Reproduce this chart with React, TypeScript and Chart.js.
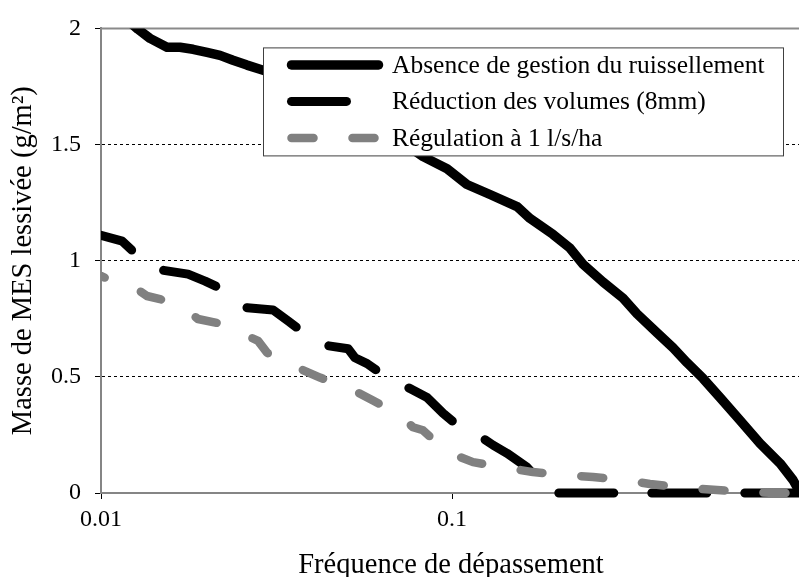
import React, { useEffect, useRef } from "react";
import { Chart, registerables } from "chart.js";

Chart.register(...registerables);

const FONT = '"Liberation Serif", "Times New Roman", Times, serif';

// Tick labels
const xTickValues = [0.01, 0.1];
const yTickValues = [0, 0.5, 1, 1.5, 2];

// Titles & legend labels
const xTitle = "Fréquence de dépassement";
const yTitle = "Masse de MES lessivée (g/m²)";
const seriesLabels = [
  "Absence de gestion du ruissellement",
  "Réduction des volumes (8mm)",
  "Régulation à 1 l/s/ha",
];

// Series 1 : Absence de gestion du ruissellement
const freqAbsence = [
  0.01, 0.0118, 0.01275, 0.01379, 0.01542, 0.01679, 0.01829, 0.02005, 0.02183,
  0.02377, 0.02606, 0.02838, 0.0369, 0.048, 0.0624, 0.0827, 0.0968, 0.1103,
  0.1283, 0.1532, 0.1668, 0.194, 0.2169, 0.2362, 0.2693, 0.307, 0.3367, 0.3837,
  0.4263, 0.4673, 0.519, 0.5801, 0.6616, 0.7541, 0.86, 0.9365, 0.974,
];
const massAbsence = [
  2.2, 2.04, 1.996, 1.957, 1.919, 1.919, 1.91, 1.897, 1.884, 1.863, 1.842, 1.824,
  1.769, 1.692, 1.576, 1.448, 1.396, 1.328, 1.285, 1.233, 1.182, 1.113, 1.054,
  0.985, 0.908, 0.839, 0.771, 0.69, 0.625, 0.561, 0.493, 0.411, 0.313, 0.214,
  0.128, 0.056, 0.01,
];

// Series 2 : Réduction des volumes (8mm)
const freqReduction = [
  0.01, 0.0115, 0.0125, 0.01379, 0.015, 0.0177, 0.0198, 0.0221, 0.0241, 0.0261,
  0.0309, 0.0341, 0.0369, 0.0407, 0.0443, 0.0506, 0.0529, 0.0573, 0.0624,
  0.0688, 0.0759, 0.0849, 0.0943, 0.1054, 0.1202, 0.1309, 0.1435, 0.1636,
  0.1877, 0.1927, 0.974,
];
const massReduction = [
  1.109, 1.084, 1.032, 0.989, 0.959, 0.942, 0.912, 0.878, 0.835, 0.797, 0.788,
  0.741, 0.702, 0.655, 0.634, 0.621, 0.582, 0.557, 0.518, 0.475, 0.45, 0.411,
  0.343, 0.283, 0.244, 0.206, 0.171, 0.111, 0.013, 0, 0,
];

// Series 3 : Régulation à 1 l/s/ha
const freqRegulation = [
  0.01, 0.01133, 0.01266, 0.01352, 0.01473, 0.01625, 0.01793, 0.01889, 0.02141,
  0.02362, 0.02606, 0.02802, 0.02972, 0.03236, 0.03572, 0.04207, 0.04642,
  0.05122, 0.05956, 0.06572, 0.07204, 0.07743, 0.08268, 0.08946, 0.0968, 0.1148,
  0.1283, 0.1398, 0.1701, 0.2072, 0.2522, 0.305, 0.3665, 0.4673, 0.5689,
  0.6927, 0.8322, 0.974,
];
const massRegulation = [
  0.934, 0.899, 0.878, 0.848, 0.835, 0.805, 0.775, 0.749, 0.732, 0.707, 0.677,
  0.655, 0.604, 0.57, 0.544, 0.497, 0.471, 0.45, 0.398, 0.364, 0.325, 0.283,
  0.27, 0.223, 0.176, 0.133, 0.12, 0.111, 0.09, 0.077, 0.069, 0.056, 0.039,
  0.021, 0.013, 0.004, 0, 0,
];

const X_MIN = 0.01;
const X_MAX = 0.974;
const Y_MIN = 0;
const Y_MAX = 2;

const zip = (xs: number[], ys: number[]) => xs.map((x, i) => ({ x, y: ys[i] }));

const framePlugin = {
  id: "frameTop",
  beforeDatasetsDraw(chart: any) {
    const { ctx, chartArea } = chart;
    ctx.save();
    ctx.strokeStyle = "#8a8a8a";
    ctx.lineWidth = 2;
    ctx.beginPath();
    ctx.moveTo(chartArea.left, chartArea.top);
    ctx.lineTo(chartArea.right, chartArea.top);
    ctx.stroke();
    ctx.restore();
  },
};

const legendPlugin = {
  id: "boxLegend",
  afterDatasetsDraw(chart: any) {
    const { ctx, chartArea } = chart;
    const left = chartArea.left + 162.5;
    const top = chartArea.top + 19.5;
    const right = chartArea.left + 682.5;
    const bottom = chartArea.top + 127.5;
    ctx.save();
    ctx.fillStyle = "#ffffff";
    ctx.fillRect(left, top, right - left, bottom - top);
    ctx.strokeStyle = "#404040";
    ctx.lineWidth = 1;
    ctx.setLineDash([]);
    ctx.strokeRect(left, top, right - left, bottom - top);
    const rowY = [top + 17, top + 53.5, top + 90];
    chart.data.datasets.forEach((ds: any, i: number) => {
      const y = rowY[i];
      ctx.save();
      ctx.strokeStyle = ds.borderColor;
      ctx.lineWidth = ds.borderWidth;
      ctx.lineCap = "round";
      ctx.setLineDash(ds.borderDash || []);
      ctx.lineDashOffset = 0;
      ctx.beginPath();
      ctx.moveTo(left + 28, y);
      ctx.lineTo(left + 115, y);
      ctx.stroke();
      ctx.restore();
      ctx.fillStyle = "#000";
      ctx.font = `25.5px ${FONT}`;
      ctx.textAlign = "left";
      ctx.textBaseline = "alphabetic";
      ctx.fillText(ds.label, left + 128.5, y + 8);
    });
    ctx.restore();
  },
};

const titlesPlugin = {
  id: "axisTitles",
  afterDraw(chart: any) {
    const { ctx, chartArea } = chart;
    ctx.save();
    ctx.fillStyle = "#000";
    ctx.font = `28.5px ${FONT}`;
    ctx.textAlign = "center";
    ctx.textBaseline = "alphabetic";
    ctx.fillText(xTitle, (chartArea.left + chartArea.right) / 2 + 1, chartArea.bottom + 80);
    ctx.translate(23.5, (chartArea.top + chartArea.bottom) / 2);
    ctx.rotate(-Math.PI / 2);
    ctx.textBaseline = "middle";
    ctx.fillText(yTitle, 0, 0);
    ctx.restore();
  },
};

export default function App() {
  const canvasRef = useRef<HTMLCanvasElement | null>(null);

  useEffect(() => {
    document.body.style.margin = "0";
    const canvas = canvasRef.current;
    if (!canvas) return;
    const common = {
      pointRadius: 0,
      pointHoverRadius: 0,
      tension: 0,
      fill: false,
      borderCapStyle: "round",
      borderJoinStyle: "round",
      clip: { left: 0, top: 0, right: 8, bottom: 8 },
    };
    const chart = new Chart(canvas, {
      type: "line",
      data: {
        datasets: [
          {
            ...common,
            label: seriesLabels[0],
            data: zip(freqAbsence, massAbsence),
            borderColor: "#000000",
            borderWidth: 9.5,
            order: 3,
          },
          {
            ...common,
            label: seriesLabels[1],
            data: zip(freqReduction, massReduction),
            borderColor: "#000000",
            borderWidth: 9,
            borderDash: [55, 38],
            borderDashOffset: 20,
            order: 2,
          },
          {
            ...common,
            label: seriesLabels[2],
            data: zip(freqRegulation, massRegulation),
            borderColor: "#808080",
            borderWidth: 8.5,
            borderDash: [22, 39],
            borderDashOffset: 18,
            order: 1,
          },
        ] as any,
      },
      options: {
        animation: false,
        responsive: false,
        maintainAspectRatio: false,
        devicePixelRatio: 1,
        layout: { padding: { top: 26, left: 0, right: 0, bottom: 0 } },
        plugins: {
          legend: { display: false },
          tooltip: { enabled: false },
          title: { display: false },
        },
        scales: {
          x: {
            type: "logarithmic",
            min: X_MIN,
            max: X_MAX,
            afterBuildTicks: (s: any) => {
              s.ticks = xTickValues.map((v) => ({ value: v }));
            },
            afterFit: (s: any) => {
              s.height = 84;
            },
            ticks: {
              autoSkip: false,
              maxRotation: 0,
              color: "#000",
              font: { family: FONT, size: 24 },
              padding: 6,
              callback: (v: any) => String(v),
            },
            grid: {
              drawOnChartArea: false,
              drawTicks: true,
              tickLength: 6,
              tickColor: "#000",
              tickWidth: 1,
            },
            border: { color: "#858585", width: 2 },
          },
          y: {
            type: "linear",
            min: Y_MIN,
            max: Y_MAX,
            afterBuildTicks: (s: any) => {
              s.ticks = yTickValues.map((v) => ({ value: v }));
            },
            afterFit: (s: any) => {
              s.width = 101;
            },
            ticks: {
              color: "#000",
              font: { family: FONT, size: 24 },
              padding: 14,
              callback: (v: any) => String(v),
            },
            grid: {
              color: (c: any) =>
                c.tick && (c.tick.value === Y_MIN || c.tick.value === Y_MAX)
                  ? "rgba(0,0,0,0)"
                  : "#000",
              lineWidth: 1,
              tickLength: 6,
              tickColor: "#000",
              tickWidth: 1,
              tickBorderDash: [],
            },
            border: { color: "#858585", width: 2, dash: [3, 3] },
          },
        },
      } as any,
      plugins: [framePlugin, legendPlugin, titlesPlugin],
    });
    return () => chart.destroy();
  }, []);

  return (
    <div style={{ width: 799, height: 577, background: "#fff" }}>
      <canvas ref={canvasRef} width={799} height={577} style={{ display: "block" }} />
    </div>
  );
}
